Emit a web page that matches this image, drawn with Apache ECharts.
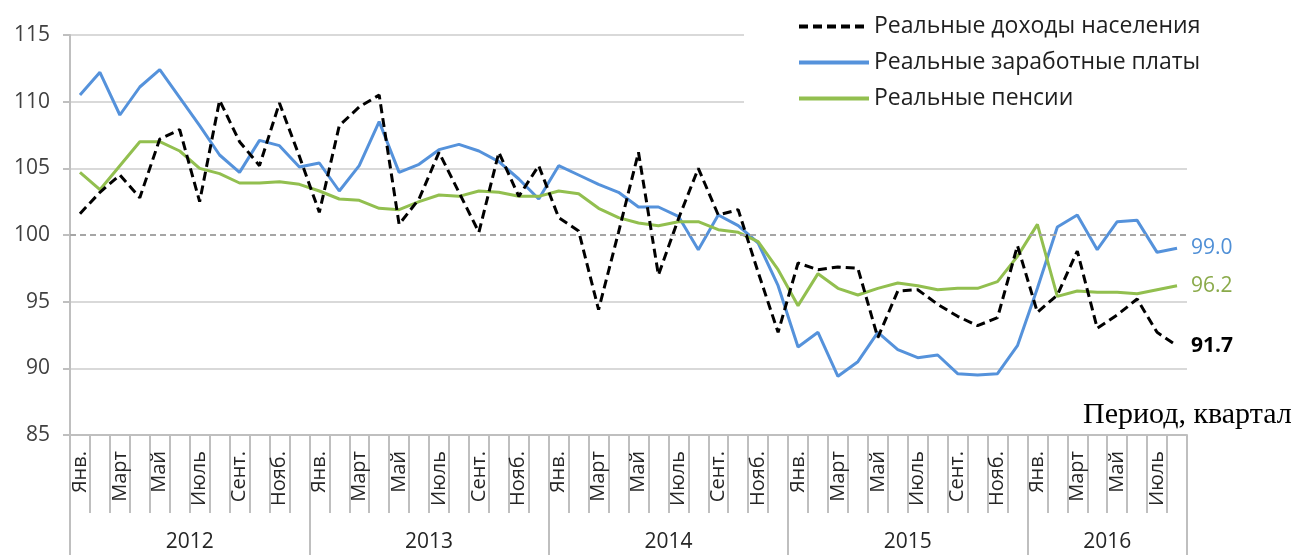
<!DOCTYPE html>
<html>
<head>
<meta charset="utf-8">
<script src="https://cdn.jsdelivr.net/npm/echarts@6/dist/echarts.min.js"></script>
<style>
  html, body { margin: 0; padding: 0; background: #fff; }
  #chart { width: 1304px; height: 555px; }
</style>
</head>
<body>
<div id="chart"></div>
<script>
  // подписи месяцев и годы
  const monthNames = ['Янв.', 'Фев.', 'Март', 'Апр.', 'Май', 'Июнь', 'Июль', 'Авг.', 'Сент.', 'Окт.', 'Нояб.', 'Дек.'];
  const years = ['2012', '2013', '2014', '2015', '2016'];
  const monthsPerYear = [12, 12, 12, 12, 8];
  const yTicks = [85, 90, 95, 100, 105, 110, 115];

  // Реальные доходы населения
  const incomes = [
    101.6, 103.2, 104.5, 102.8, 107.2, 107.9, 102.5, 110.1, 107.0, 105.2, 109.9, 105.9,
    101.7, 108.2, 109.6, 110.5, 100.8, 102.7, 106.2, 103.2, 100.2, 106.2, 102.9, 105.2,
    101.3, 100.3, 94.4, 100.2, 106.2, 97.0, 101.2, 105.0, 101.5, 101.9, 97.2, 92.7,
    97.9, 97.4, 97.6, 97.5, 92.3, 95.8, 95.9, 94.8, 93.9, 93.2, 93.8, 99.2,
    94.2, 95.5, 98.8, 93.0, 94.0, 95.2, 92.7, 91.7
  ];
  // Реальные заработные платы
  const wages = [
    110.5, 112.2, 109.0, 111.1, 112.4, 110.3, 108.2, 106.0, 104.7, 107.1, 106.7, 105.1,
    105.4, 103.3, 105.2, 108.5, 104.7, 105.3, 106.4, 106.8, 106.3, 105.5, 104.2, 102.7,
    105.2, 104.5, 103.8, 103.2, 102.1, 102.1, 101.4, 98.9, 101.5, 100.7, 99.4, 96.2,
    91.6, 92.7, 89.4, 90.5, 92.7, 91.4, 90.8, 91.0, 89.6, 89.5, 89.6, 91.7,
    96.0, 100.6, 101.5, 98.9, 101.0, 101.1, 98.7, 99.0
  ];
  // Реальные пенсии
  const pensions = [
    104.7, 103.4, 105.2, 107.0, 107.0, 106.3, 105.0, 104.6, 103.9, 103.9, 104.0, 103.8,
    103.3, 102.7, 102.6, 102.0, 101.9, 102.5, 103.0, 102.9, 103.3, 103.2, 102.9, 102.9,
    103.3, 103.1, 102.0, 101.3, 100.9, 100.7, 101.0, 101.0, 100.4, 100.2, 99.5, 97.4,
    94.7, 97.1, 96.0, 95.5, 96.0, 96.4, 96.2, 95.9, 96.0, 96.0, 96.5, 98.4,
    100.8, 95.4, 95.8, 95.7, 95.7, 95.6, 95.9, 96.2
  ];

  const categories = [];
  const yearStarts = [];
  const yearMids = [];
  years.forEach((y, k) => {
    yearStarts.push(categories.length);
    yearMids.push(categories.length + monthsPerYear[k] / 2 - 1);
    for (let m = 0; m < monthsPerYear[k]; m++) {
      categories.push(monthNames[m] + ' ' + y);
    }
  });

  const font = 'Open Sans';
  const gridColor = '#d9d9d9';
  const axisColor = '#bfbfbf';

  const chart = echarts.init(document.getElementById('chart'));
  chart.setOption({
    animation: false,
    textStyle: { fontFamily: font },
    grid: { left: 70, right: 117, top: 35, bottom: 120, outerBoundsMode: 'none', containLabel: false },
    legend: {
      orient: 'vertical',
      left: 744,
      top: 0,
      padding: [15, 10, 10, 53],
      backgroundColor: '#fff',
      itemWidth: 70,
      itemHeight: 22,
      itemGap: 13,
      // прячем кружок маркера, оставляем только линию
      itemStyle: { color: 'rgba(0,0,0,0)', opacity: 0, borderWidth: 0 },
      lineStyle: { width: 4 },
      textStyle: { fontSize: 23, color: '#1f1f1f', fontFamily: font, lineHeight: 22 },
      data: ['Реальные доходы населения', 'Реальные заработные платы', 'Реальные пенсии']
    },
    xAxis: [{
      type: 'category',
      data: categories,
      boundaryGap: true,
      name: 'Период, квартал',
      nameLocation: 'end',
      nameGap: -104,
      nameTextStyle: {
        fontFamily: 'Liberation Serif', fontSize: 30, color: '#000',
        align: 'left', verticalAlign: 'bottom', padding: [0, 0, 5, 0]
      },
      axisLine: { lineStyle: { color: axisColor, width: 2 } },
      axisTick: { show: true, interval: 0, length: 78, lineStyle: { color: axisColor, width: 2 } },
      axisLabel: {
        interval: 1, rotate: 90, margin: 16, fontSize: 20, color: '#262626',
        formatter: v => v.split(' ')[0]
      }
    }, {
      type: 'category',
      data: categories,
      position: 'bottom',
      boundaryGap: true,
      axisLine: { show: false },
      axisTick: {
        show: true, length: 120,
        interval: i => yearStarts.indexOf(i) >= 0,
        lineStyle: { color: axisColor, width: 2 }
      },
      axisLabel: {
        interval: i => yearMids.indexOf(i) >= 0,
        margin: 97, fontSize: 21, color: '#262626', padding: [0, 0, 0, 20],
        formatter: v => v.split(' ')[1]
      }
    }],
    yAxis: {
      type: 'value',
      min: yTicks[0],
      max: yTicks[yTicks.length - 1],
      interval: 5,
      axisLine: { show: true, lineStyle: { color: axisColor, width: 2 } },
      axisTick: { show: true, length: 7, lineStyle: { color: axisColor, width: 2 } },
      axisLabel: { fontSize: 21, color: '#404040', margin: 20 },
      splitLine: {
        lineStyle: {
          width: 2,
          color: yTicks.map(t => t === 100 ? 'rgba(0,0,0,0)' : gridColor)
        }
      }
    },
    series: [{
      name: 'Реальные заработные платы',
      type: 'line',
      data: wages,
      symbol: 'none',
      itemStyle: { color: '#5592db' },
      lineStyle: { color: '#5592db', width: 3 },
      endLabel: {
        show: true, distance: 14, fontSize: 21, color: '#4f8fd6',
        formatter: p => p.value.toFixed(1)
      }
    }, {
      name: 'Реальные пенсии',
      type: 'line',
      data: pensions,
      symbol: 'none',
      itemStyle: { color: '#92bf4f' },
      lineStyle: { color: '#92bf4f', width: 3 },
      endLabel: {
        show: true, distance: 14, fontSize: 21, color: '#8aaa4a',
        formatter: p => p.value.toFixed(1)
      }
    }, {
      name: 'Реальные доходы населения',
      type: 'line',
      data: incomes,
      symbol: 'none',
      itemStyle: { color: '#000' },
      lineStyle: { color: '#000', width: 3, type: [9, 5] },
      endLabel: {
        show: true, distance: 14, fontSize: 21, color: '#000', fontWeight: 'bold',
        formatter: p => p.value.toFixed(1)
      },
      markLine: {
        silent: true,
        symbol: 'none',
        label: { show: false },
        lineStyle: { color: '#a6a6a6', width: 2, type: [6, 4] },
        data: [{ yAxis: 100 }]
      }
    }]
  });
</script>
</body>
</html>
